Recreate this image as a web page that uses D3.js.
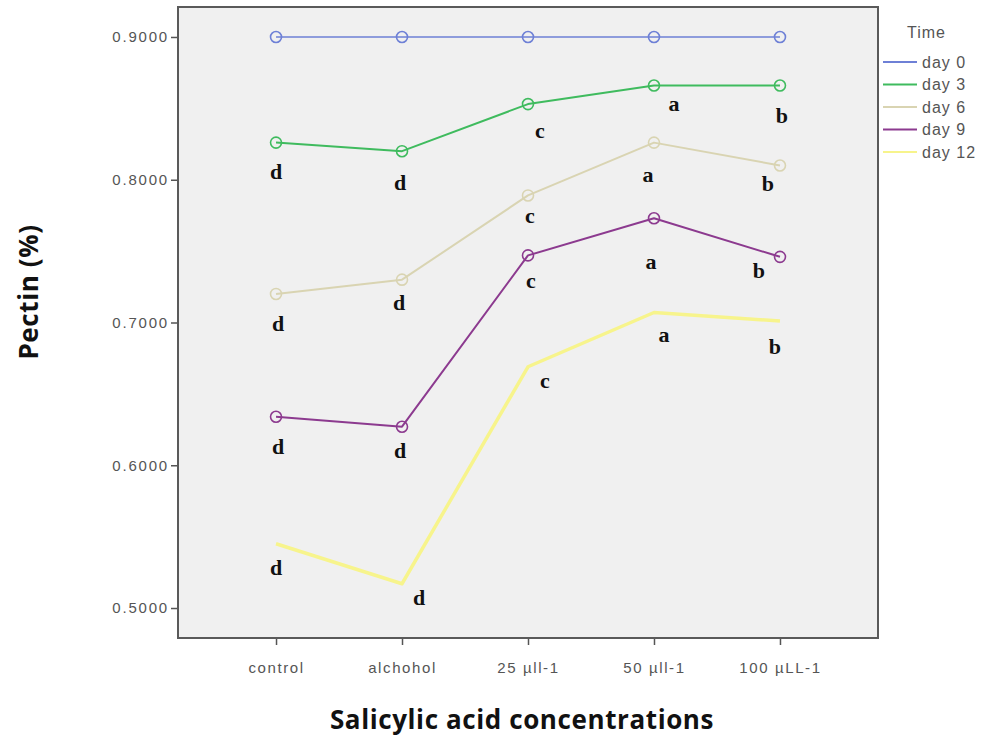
<!DOCTYPE html>
<html><head><meta charset="utf-8">
<script src="https://cdn.jsdelivr.net/npm/d3@7"></script>
<style>body{margin:0;background:#fff}svg{display:block}</style>
</head><body>
<svg id="chart" width="986" height="741"></svg>
<script>
// ---- data ----
const categories = ["control", "alchohol", "25 µll-1", "50 µll-1", "100 µLL-1"];
const seriesNames = ["day 0", "day 3", "day 6", "day 9", "day 12"];
const day0  = [0.900, 0.900, 0.900, 0.900, 0.900];
const day3  = [0.826, 0.820, 0.853, 0.866, 0.866];
const day6  = [0.720, 0.730, 0.789, 0.826, 0.810];
const day9  = [0.634, 0.627, 0.747, 0.773, 0.746];
const day12 = [0.545, 0.517, 0.669, 0.707, 0.701];
const letters3  = ["d", "d", "c", "a", "b"];
const letters6  = ["d", "d", "c", "a", "b"];
const letters9  = ["d", "d", "c", "a", "b"];
const letters12 = ["d", "d", "c", "a", "b"];
const yTicks = [0.5, 0.6, 0.7, 0.8, 0.9];

// ---- styling / layout ----
const colors = ["#6e80d6", "#3fbb5e", "#d9d4b2", "#8c3a8f", "#f7f48c"];
const widths = [1.6, 2, 2, 2, 3.5];
const showMarkers = [true, true, true, true, false];
// label offsets (px) relative to each point
const labelOffsets = [
  null,
  [[0,29],[-2,31],[12,26],[20,18],[2,30]],
  [[2,29],[-3,23],[2,20],[-6,32],[-12,18]],
  [[2,30],[-2,24],[3,25],[-3,43],[-21,13]],
  [[0,24],[17,14],[17,14],[10,22],[-5,25]]
];

const series = [day0, day3, day6, day9, day12];
const letterSets = [null, letters3, letters6, letters9, letters12];

const svg = d3.select("#chart");
const L = 178, R = 878, T = 7, B = 638;

const x = d3.scalePoint().domain(categories).range([L, R]).padding(0.778);
const y = d3.scaleLinear().domain([0.479, 0.921]).range([B, T]);

svg.append("rect").attr("x", L).attr("y", T).attr("width", R - L).attr("height", B - T)
  .attr("fill", "#f0f0f0");

const tickFont = "Liberation Sans, Arial, sans-serif";
// axes
const yAxis = svg.append("g").attr("transform", `translate(${L},0)`)
  .call(d3.axisLeft(y).tickValues(yTicks).tickFormat(d3.format(".4f")).tickSize(7).tickPadding(2));
yAxis.select(".domain").remove();
yAxis.selectAll("line").attr("stroke", "#555").attr("stroke-width", 1.5);
yAxis.selectAll("text").attr("fill", "#555").style("font-family", tickFont)
  .style("font-size", "15px").style("letter-spacing", "1.8px");

const xAxis = svg.append("g").attr("transform", `translate(0,${B})`)
  .call(d3.axisBottom(x).tickSize(7).tickPadding(17));
xAxis.select(".domain").remove();
xAxis.selectAll("line").attr("stroke", "#555").attr("stroke-width", 1.5);
xAxis.selectAll("text").attr("fill", "#555").style("font-family", tickFont)
  .style("font-size", "15px").style("letter-spacing", "1.6px");

// frame
svg.append("rect").attr("x", L).attr("y", T).attr("width", R - L).attr("height", B - T)
  .attr("fill", "none").attr("stroke", "#5a5a5a").attr("stroke-width", 2);

// lines
const line = d3.line().x((d, i) => x(categories[i])).y(d => y(d));
series.forEach((s, k) => {
  svg.append("path").datum(s).attr("d", line).attr("fill", "none")
    .attr("stroke", colors[k]).attr("stroke-width", widths[k]).attr("stroke-linejoin", "round");
  if (showMarkers[k]) {
    svg.append("g").selectAll("circle").data(s).join("circle")
      .attr("cx", (d, i) => x(categories[i])).attr("cy", d => y(d)).attr("r", 5.5)
      .attr("fill", "none").attr("stroke", colors[k]).attr("stroke-width", 1.6);
  }
});

// significance letters
series.forEach((s, k) => {
  if (!letterSets[k]) return;
  svg.append("g").selectAll("text").data(s).join("text")
    .attr("x", (d, i) => x(categories[i]) + labelOffsets[k][i][0])
    .attr("y", (d, i) => y(d) + labelOffsets[k][i][1])
    .attr("dy", "0.35em")
    .attr("text-anchor", "middle")
    .style("font-family", "Liberation Serif, Times New Roman, serif")
    .style("font-weight", "bold").style("font-size", "22px").attr("fill", "#111")
    .text((d, i) => letterSets[k][i]);
});

// axis titles
svg.append("text").attr("transform", "translate(38,292) rotate(-90)")
  .attr("text-anchor", "middle").style("font-family", "Open Sans, sans-serif")
  .style("font-weight", "bold").style("font-size", "26px").style("letter-spacing", "0.6px")
  .attr("fill", "#111").text("Pectin (%)");
svg.append("text").attr("x", 522).attr("y", 729).attr("text-anchor", "middle")
  .style("font-family", "Open Sans, sans-serif").style("font-weight", "bold")
  .style("font-size", "26px").style("letter-spacing", "0.6px")
  .attr("fill", "#111").text("Salicylic acid concentrations");

// legend
const lg = svg.append("g");
lg.append("text").attr("x", 907).attr("y", 38).style("font-family", tickFont)
  .style("font-size", "16px").style("letter-spacing", "1px").attr("fill", "#555").text("Time");
seriesNames.forEach((n, k) => {
  const yy = 62 + k * 22.5;
  lg.append("line").attr("x1", 883).attr("x2", 917).attr("y1", yy).attr("y2", yy)
    .attr("stroke", colors[k]).attr("stroke-width", 2);
  lg.append("text").attr("x", 922).attr("y", yy).attr("dy", "0.35em")
    .style("font-family", tickFont).style("font-size", "16px").style("letter-spacing", "1px")
    .attr("fill", "#555").text(n);
});
</script>
</body></html>
